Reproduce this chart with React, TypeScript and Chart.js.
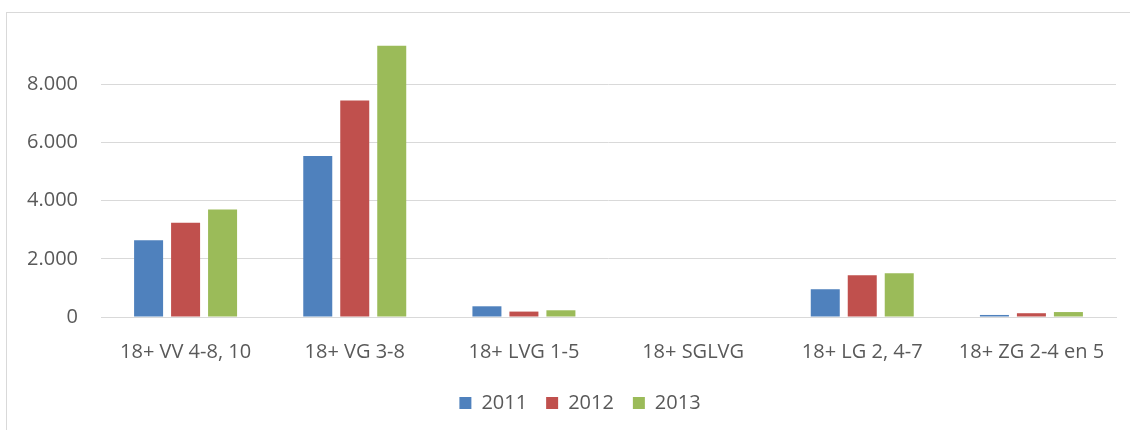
import React, { useEffect, useRef } from "react";
import { Chart, registerables } from "chart.js";

Chart.register(...registerables);

const categories = [
  "18+ VV 4-8, 10",
  "18+ VG 3-8",
  "18+ LVG 1-5",
  "18+ SGLVG",
  "18+ LG 2, 4-7",
  "18+ ZG 2-4 en 5",
];
const values2011 = [2640, 5530, 368, 0, 954, 70];
const values2012 = [3236, 7436, 186, 0, 1435, 130];
const values2013 = [3697, 9318, 231, 0, 1504, 170];
const seriesLabels = ["2011", "2012", "2013"];

const FONT = "'Open Sans', Lato, sans-serif";
const TEXT = "#595959";
const GRID = "#d9d9d9";
const Y_MAX = 10000;

const legendShift = {
  id: "legendShift",
  afterLayout(chart: any) {
    const lg = chart.legend;
    if (lg) {
      lg.left += 22;
      lg.right += 22;
    }
  },
};

export default function App() {
  const ref = useRef<HTMLCanvasElement | null>(null);

  useEffect(() => {
    if (!ref.current) return;
    const chart = new Chart(ref.current, {
      type: "bar",
      data: {
        labels: categories,
        datasets: [
          { label: seriesLabels[0], data: values2011, backgroundColor: "#4F81BD" },
          { label: seriesLabels[1], data: values2012, backgroundColor: "#C0504D" },
          { label: seriesLabels[2], data: values2013, backgroundColor: "#9BBB59" },
        ],
      },
      plugins: [legendShift],
      options: {
        responsive: false,
        animation: false,
        devicePixelRatio: 1,
        datasets: {
          bar: { categoryPercentage: 0.656, barPercentage: 0.784 },
        },
        layout: { padding: { left: 0, right: 14, top: 26, bottom: 7 } },
        plugins: {
          tooltip: { enabled: false },
          legend: {
            position: "bottom",
            labels: {
              boxWidth: 12,
              boxHeight: 12,
              padding: 19,
              color: TEXT,
              font: { family: FONT, size: 20 },
            },
          },
        },
        scales: {
          x: {
            grid: { display: false },
            border: { display: true, color: GRID, width: 1 },
            ticks: {
              color: TEXT,
              font: { family: FONT, size: 20 },
              padding: 15,
              maxRotation: 0,
              autoSkip: false,
            },
            afterFit: (scale: any) => {
              scale.height = 57;
              scale.paddingLeft = 0;
              scale.paddingRight = 0;
            },
          },
          y: {
            min: 0,
            max: Y_MAX,
            grid: {
              color: (ctx: any) =>
                ctx.tick && ctx.tick.value >= Y_MAX ? "rgba(0,0,0,0)" : GRID,
              lineWidth: 1,
              drawTicks: false,
            },
            border: { display: false },
            ticks: {
              stepSize: 2000,
              color: TEXT,
              font: { family: FONT, size: 20 },
              padding: 23,
              callback: (v: any) =>
                Number(v) >= Y_MAX
                  ? ""
                  : Number(v).toLocaleString("de-DE", { maximumFractionDigits: 0 }),
            },
            afterFit: (scale: any) => {
              scale.width = 101;
              scale.paddingTop = 0;
              scale.paddingBottom = 0;
            },
          },
        },
      },
    });
    return () => chart.destroy();
  }, []);

  return (
    <div
      style={{
        position: "fixed",
        left: 0,
        top: 0,
        width: 1130,
        height: 430,
        overflow: "hidden",
        background: "#fff",
      }}
    >
      <div
        style={{
          position: "absolute",
          left: 6,
          top: 12,
          width: 1130,
          height: 430,
          border: "1px solid #d9d9d9",
        }}
      />
      <canvas
        ref={ref}
        width={1130}
        height={430}
        style={{ position: "absolute", left: 0, top: 0, width: 1130, height: 430 }}
      />
    </div>
  );
}
